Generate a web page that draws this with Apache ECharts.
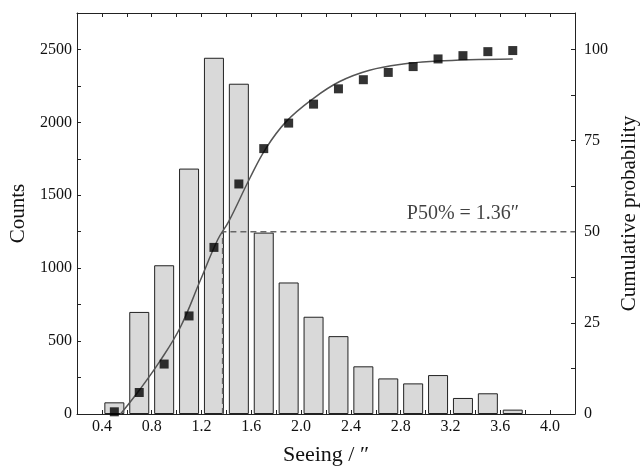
<!DOCTYPE html>
<html>
<head>
<meta charset="utf-8">
<script src="https://cdn.jsdelivr.net/npm/echarts@6/dist/echarts.min.js"></script>
<style>html,body{margin:0;padding:0;background:#fff;}#c{width:644px;height:469px;}</style>
</head>
<body>
<div id="c"></div>
<script>
// Histogram bins (bin centers, arcsec) and counts
const binCenters = [0.5, 0.7, 0.9, 1.1, 1.3, 1.5, 1.7, 1.9, 2.1, 2.3, 2.5, 2.7, 2.9, 3.1, 3.3, 3.5, 3.7];
const counts = [80, 700, 1020, 1683, 2443, 2265, 1244, 902, 667, 534, 327, 244, 210, 267, 110, 142, 30];
// Cumulative probability points (%)
const cumProb = [0.6, 5.9, 13.7, 26.9, 45.7, 63.1, 72.8, 79.8, 85.0, 89.2, 91.7, 93.7, 95.3, 97.4, 98.3, 99.4, 99.7];
// Fitted curve
const fitX = [0.55, 0.7, 0.87, 1.03, 1.19, 1.33, 1.42, 1.59, 1.72, 1.88, 2.1, 2.31, 2.55, 2.82, 3.09, 3.35, 3.7];
const fitY = [0, 6.5, 14.7, 23.8, 36.6, 47.8, 52.9, 64.8, 73, 80.2, 86.6, 91.2, 94.3, 96.0, 96.8, 97.2, 97.4];
// Median marker
const medianX = 1.37;
const medianP = 50;
const medianLabel = 'P50% = 1.36\u2033';
const labelAt = [3.3, 55];

const FONT = "'Liberation Serif', 'Times New Roman', serif";
const chart = echarts.init(document.getElementById('c'));

const xCommon = {
  type: 'value', min: 0.2, max: 4.2, interval: 0.2,
  axisLine: {show: true, onZero: false, lineStyle: {color: '#222', width: 1}},
  axisTick: {show: true, inside: true, length: 4, lineStyle: {color: '#222'}},
  splitLine: {show: false}
};
const yTickLabel = {fontFamily: FONT, fontSize: 16, color: '#111'};

chart.setOption({
  animation: false,
  backgroundColor: '#fff',
  grid: {left: 77, right: 69, top: 13, bottom: 55, outerBoundsMode: 'none', containLabel: false},
  xAxis: [
    Object.assign({}, xCommon, {
      position: 'bottom',
      name: 'Seeing / \u2033', nameLocation: 'middle', nameGap: 30,
      nameTextStyle: {fontFamily: FONT, fontSize: 22, color: '#111'},
      axisLabel: {
        fontFamily: FONT, fontSize: 16, color: '#111', margin: 5,
        formatter: function (v) {
          const k = Math.round(v * 10);
          return (k % 4 === 0 && k >= 4 && k <= 40) ? (k / 10).toFixed(1) : '';
        }
      }
    }),
    Object.assign({}, xCommon, {position: 'top', axisLabel: {show: false}})
  ],
  yAxis: [
    {
      type: 'value', min: 0, max: 2750, interval: 250, position: 'left',
      name: 'Counts', nameLocation: 'middle', nameGap: 46, nameRotate: 90,
      nameTextStyle: {fontFamily: FONT, fontSize: 21, color: '#111'},
      axisLine: {show: true, lineStyle: {color: '#222', width: 1}},
      axisTick: {show: true, inside: true, length: 4, lineStyle: {color: '#222'}},
      splitLine: {show: false},
      axisLabel: Object.assign({}, yTickLabel, {margin: 5, formatter: function (v) {
        return (v % 500 === 0 && v <= 2500) ? String(v) : '';
      }})
    },
    {
      type: 'value', min: 0, max: 110, interval: 12.5, position: 'right',
      name: 'Cumulative probability', nameLocation: 'middle', nameGap: 44, nameRotate: 90,
      nameTextStyle: {fontFamily: FONT, fontSize: 21, color: '#111'},
      axisLine: {show: true, lineStyle: {color: '#222', width: 1}},
      axisTick: {show: true, inside: true, length: 4, lineStyle: {color: '#222'}},
      splitLine: {show: false},
      axisLabel: Object.assign({}, yTickLabel, {margin: 9, formatter: function (v) {
        return (v % 25 === 0 && v <= 100) ? String(v) : '';
      }})
    }
  ],
  series: [
    {
      type: 'bar', xAxisIndex: 0, yAxisIndex: 0, barWidth: 20,
      data: binCenters.map((x, i) => [x, counts[i]]),
      itemStyle: {color: '#d9d9d9', borderColor: '#222', borderWidth: 1},
      z: 1
    },
    {
      type: 'line', xAxisIndex: 0, yAxisIndex: 1, symbol: 'none',
      data: [[medianX, 0], [medianX, medianP], [4.2, medianP]],
      lineStyle: {color: '#666', width: 1.6, type: [6, 4]},
      z: 2, silent: true
    },
    {
      type: 'line', xAxisIndex: 0, yAxisIndex: 1, smooth: 0.4, showSymbol: false, symbol: 'none',
      data: fitX.map((x, i) => [x, fitY[i]]),
      lineStyle: {color: '#555', width: 1.5},
      z: 3
    },
    {
      type: 'scatter', xAxisIndex: 0, yAxisIndex: 1, symbol: 'rect', symbolSize: 9,
      data: binCenters.map((x, i) => [x, cumProb[i]]),
      itemStyle: {color: '#000'},
      z: 4
    },
    {
      type: 'scatter', xAxisIndex: 0, yAxisIndex: 1, symbolSize: 0,
      data: [labelAt],
      label: {show: true, position: 'inside', formatter: medianLabel,
        fontFamily: FONT, fontSize: 20, color: '#111'},
      silent: true, z: 5
    }
  ]
});
</script>
</body>
</html>
